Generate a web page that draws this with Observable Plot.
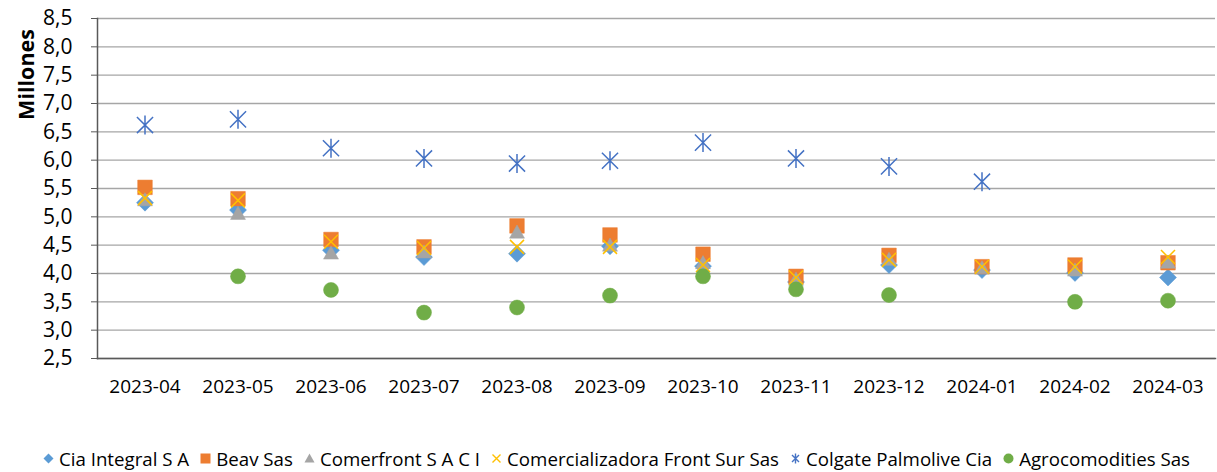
<!DOCTYPE html>
<html>
<head>
<meta charset="utf-8">
<script src="https://cdn.jsdelivr.net/npm/d3@7"></script>
<script src="https://cdn.jsdelivr.net/npm/@observablehq/plot@0.6"></script>
<style>
  html, body { margin: 0; padding: 0; background: #fff; }
  body { width: 1217px; height: 472px; overflow: hidden; font-family: "Open Sans", sans-serif; }
  #legend { display: flex; justify-content: center; align-items: center; height: 26px; font-size: 18.7px; color: #000; gap: 11px; margin-left: 16px; }
  #legend .item { display: flex; align-items: center; gap: 5px; white-space: nowrap; }
</style>
</head>
<body>
<div id="chart"></div>
<div id="legend"></div>
<script>
const categories = ["2023-04","2023-05","2023-06","2023-07","2023-08","2023-09","2023-10","2023-11","2023-12","2024-01","2024-02","2024-03"];
const seriesNames = ["Cia Integral S A","Beav Sas","Comerfront S A C I","Comercializadora Front Sur Sas","Colgate Palmolive Cia","Agrocomodities Sas"];
const seriesColors = ["#5b9bd5","#ed7d31","#a5a5a5","#ffc000","#4472c4","#70ad47"];
const ciaIntegral      = [5.25, 5.12, 4.41, 4.29, 4.35, 4.48, 4.13, 3.85, 4.15, 4.06, 4.01, 3.93];
const beav             = [5.52, 5.32, 4.60, 4.47, 4.84, 4.68, 4.34, 3.95, 4.32, 4.12, 4.15, 4.19];
const comerfront       = [5.30, 5.06, 4.36, 4.38, 4.73, 4.50, 4.19, 3.90, 4.25, 4.10, 4.06, 4.20];
const comercializadora = [5.33, 5.29, 4.56, 4.45, 4.47, 4.47, 4.15, 3.93, 4.24, 4.12, 4.12, 4.29];
const colgate          = [6.62, 6.72, 6.21, 6.03, 5.94, 5.99, 6.31, 6.03, 5.89, 5.62, null, null];
const agro             = [null, 3.95, 3.71, 3.31, 3.40, 3.61, 3.95, 3.72, 3.62, null, 3.50, 3.52];
const yTicks = [2.5, 3, 3.5, 4, 4.5, 5, 5.5, 6, 6.5, 7, 7.5, 8, 8.5];
const yLabel = "Millones";

const seriesValues = [ciaIntegral, beav, comerfront, comercializadora, colgate, agro];

// custom symbols: size = r^2 * PI, so r = half-extent in px
const half = size => Math.sqrt(size / Math.PI);
const symDiamond = {draw(c, s){ const r = half(s); c.moveTo(0,-r); c.lineTo(r,0); c.lineTo(0,r); c.lineTo(-r,0); c.closePath(); }};
const symSquare = {draw(c, s){ const r = half(s); c.rect(-r,-r,2*r,2*r); }};
const symTriangle = {draw(c, s){ const r = half(s); c.moveTo(0,-r*0.95); c.lineTo(r,r*0.8); c.lineTo(-r,r*0.8); c.closePath(); }};
const symTimes = {draw(c, s){ const r = half(s); c.moveTo(-r,-r); c.lineTo(r,r); c.moveTo(r,-r); c.lineTo(-r,r); }};
const symStar = {draw(c, s){ const r = half(s); const d = r*0.85; c.moveTo(-d,-d); c.lineTo(d,d); c.moveTo(d,-d); c.lineTo(-d,d); c.moveTo(0,-r); c.lineTo(0,r); }};
const symCircle = {draw(c, s){ const r = half(s); c.moveTo(r,0); c.arc(0,0,r,0,2*Math.PI); }};

const styles = [
  {symbol: symDiamond, r: 8.5, filled: true},
  {symbol: symSquare, r: 7.3, filled: true},
  {symbol: symTriangle, r: 7.5, filled: true},
  {symbol: symTimes, r: 7, filled: false},
  {symbol: symStar, r: 9.5, filled: false},
  {symbol: symCircle, r: 7.5, filled: true}
];

const dotMarks = seriesValues.map((vals, i) => {
  const data = categories.map((c, j) => ({cat: c, value: vals[j]})).filter(d => d.value != null);
  const st = styles[i];
  return Plot.dot(data, {
    x: "cat", y: "value", symbol: st.symbol, r: st.r,
    fill: st.filled ? seriesColors[i] : "none",
    stroke: seriesColors[i],
    strokeWidth: st.filled ? 0.5 : 1.5
  });
});

const fmt = d => d.toFixed(1).replace(".", ",");

const chart = Plot.plot({
  width: 1217,
  height: 445,
  marginTop: 18,
  marginBottom: 87,
  marginLeft: 97,
  marginRight: 2,
  style: {fontFamily: "Open Sans, sans-serif", color: "#000", background: "#fff"},
  x: {type: "band", domain: categories, padding: 0, label: null},
  y: {domain: [2.5, 8.5], label: null},
  marks: [
    Plot.gridY(yTicks, {stroke: "#a6a6a6", strokeOpacity: 1, strokeWidth: 1.3}),
    Plot.axisY(yTicks, {tickSize: 6, tickPadding: 19, tickFormat: fmt, fontSize: 21, stroke: "#595959", label: null}),
    Plot.axisX({tickSize: 0, tickPadding: 21, fontSize: 19, label: null}),
    Plot.frame({anchor: "left", stroke: "#595959", strokeWidth: 1.5}),
    Plot.frame({anchor: "bottom", stroke: "#595959", strokeWidth: 1.5}),
    Plot.text([yLabel], {frameAnchor: "top-left", rotate: -90, dx: -79, dy: 56, fontWeight: "bold", fontSize: 21.5, textAnchor: "middle", fill: "#000"}),
    ...dotMarks
  ]
});
document.getElementById("chart").appendChild(chart);

// legend
const legendSvgs = [
  '<polygon points="5,0 10,5 5,10 0,5" />',
  '<rect x="0" y="0" width="10" height="10" />',
  '<polygon points="5,0 10,9 0,9" />',
  '<path d="M1,1L9,9M9,1L1,9" fill="none" stroke-width="1.4" />',
  '<path d="M1.5,1.5L8.5,8.5M8.5,1.5L1.5,8.5M5,0L5,10" fill="none" stroke-width="1.4" />',
  '<circle cx="5" cy="5" r="5" />'
];
const legend = document.getElementById("legend");
seriesNames.forEach((name, i) => {
  const item = document.createElement("div");
  item.className = "item";
  const filled = styles[i].filled;
  item.innerHTML = `<svg width="11" height="11" viewBox="-0.5 -0.5 11 11" style="overflow:visible" fill="${filled ? seriesColors[i] : "none"}" stroke="${filled ? "none" : seriesColors[i]}">${legendSvgs[i]}</svg><span>${name}</span>`;
  legend.appendChild(item);
});
</script>
</body>
</html>
